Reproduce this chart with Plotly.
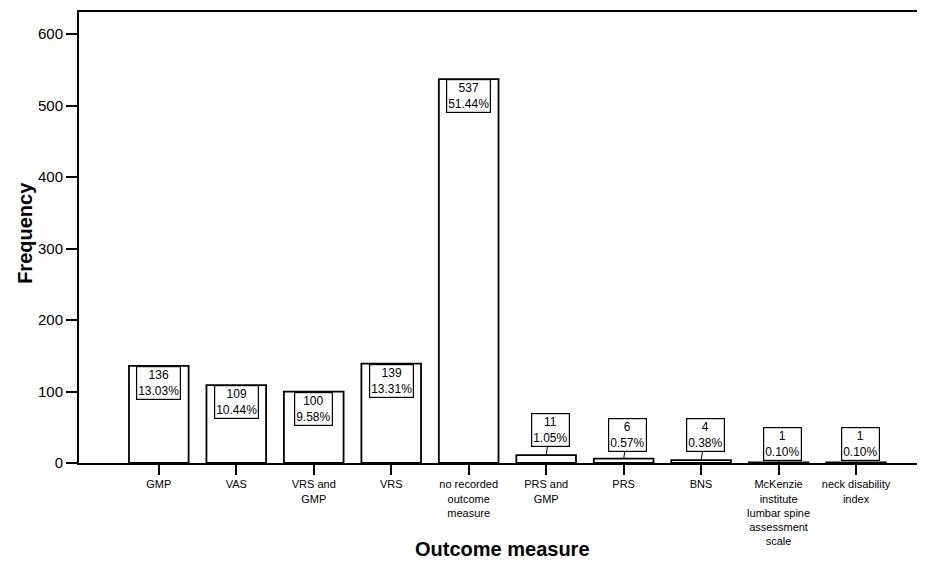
import plotly.graph_objects as go

categories = ["GMP", "VAS", "VRS and<br>GMP", "VRS", "no recorded<br>outcome<br>measure",
              "PRS and<br>GMP", "PRS", "BNS",
              "McKenzie<br>institute<br>lumbar spine<br>assessment<br>scale",
              "neck disability<br>index"]
frequency = [136, 109, 100, 139, 537, 11, 6, 4, 1, 1]
percent_labels = ["13.03%", "10.44%", "9.58%", "13.31%", "51.44%",
                  "1.05%", "0.57%", "0.38%", "0.10%", "0.10%"]

FONT = "Liberation Sans, Arial, sans-serif"

fig = go.Figure()
fig.add_trace(go.Bar(
    x=categories, y=frequency, width=0.77,
    marker=dict(color="white", line=dict(color="black", width=1.8)),
    hoverinfo="skip",
))

# pixel offsets of the outside label boxes (style only)
outside_offset = {11: -25, 6: -24, 4: -25, 1: -18}

annotations = []
for cat, v, p in zip(categories, frequency, percent_labels):
    txt = f"{v}<br>{p}"
    if v >= 50:
        annotations.append(dict(
            x=cat, y=v, xref="x", yref="y", text=txt, showarrow=False,
            yanchor="top", xanchor="center", align="center",
            font=dict(family=FONT, size=12, color="black"),
            bordercolor="black", borderwidth=1.2, borderpad=1, bgcolor="white",
        ))
    else:
        annotations.append(dict(
            x=cat, y=v, xref="x", yref="y", text=txt, showarrow=True,
            arrowhead=0, arrowwidth=1, arrowcolor="black", standoff=0,
            ax=4, ay=outside_offset.get(v, -25), align="center",
            font=dict(family=FONT, size=12, color="black"),
            bordercolor="black", borderwidth=1.2, borderpad=1, bgcolor="white",
        ))

annotations.append(dict(
    text="<b>Frequency</b>", xref="paper", yref="paper", x=-0.064, y=0.51,
    textangle=-90, showarrow=False, xanchor="center", yanchor="middle",
    font=dict(family=FONT, size=20, color="black")))
annotations.append(dict(
    text="<b>Outcome measure</b>", xref="paper", yref="paper", x=0.5, y=-0.19,
    showarrow=False, xanchor="center", yanchor="middle",
    font=dict(family=FONT, size=20, color="black")))

fig.update_layout(
    width=917, height=562,
    margin=dict(l=71, r=0, t=4, b=107),
    paper_bgcolor="white", plot_bgcolor="white",
    showlegend=False,
    annotations=annotations,
    font=dict(family=FONT, color="black"),
)
fig.update_xaxes(
    range=[-1.03, 9.89], showline=True, linecolor="black", linewidth=2,
    mirror=True, ticks="outside", ticklen=10, tickwidth=2, tickcolor="black",
    showgrid=False, zeroline=False, tickfont=dict(family=FONT, size=11),
)
fig.update_yaxes(
    range=[0, 631], showline=True, linecolor="black", linewidth=2,
    ticks="outside", ticklen=11, tickwidth=2, tickcolor="black",
    tickvals=[0, 100, 200, 300, 400, 500, 600],
    showgrid=False, zeroline=False, tickfont=dict(family=FONT, size=15),
)

fig.write_html("out.html")
